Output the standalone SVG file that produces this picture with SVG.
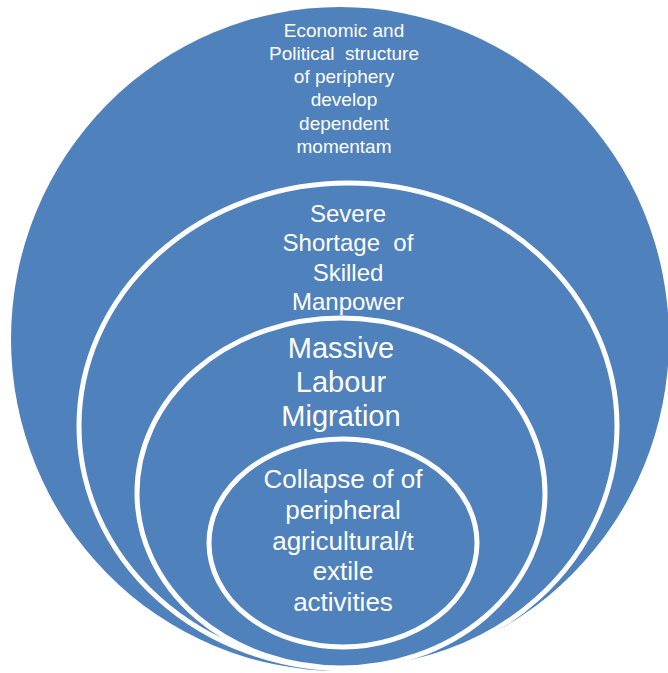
<svg xmlns="http://www.w3.org/2000/svg" width="668" height="673" viewBox="0 0 668 673">
  <style>
    .ring { fill: #4F81BD; stroke: #FFFFFF; stroke-width: 5; }
    .outer { fill: #4F81BD; stroke: none; }
    .lbl { fill: #FFFFFF; font-family: "Liberation Sans", Arial, sans-serif; text-anchor: middle; }
  </style>
  <rect width="668" height="673" fill="#FFFFFF"/>

  <!-- outermost layer -->
  <g id="node-structure">
    <ellipse class="outer" cx="340" cy="339" rx="329" ry="332"/>
    <text class="lbl" font-size="19"><tspan x="344" y="37">Economic and</tspan><tspan x="344" y="60">Political&#160; structure</tspan><tspan x="344" y="83">of periphery</tspan><tspan x="344" y="106">develop</tspan><tspan x="344" y="130">dependent</tspan><tspan x="344" y="153">momentam</tspan></text>
  </g>

  <!-- second layer -->
  <g id="node-shortage">
    <ellipse class="ring" cx="348" cy="426" rx="269" ry="243"/>
    <text class="lbl" font-size="24"><tspan x="348" y="222">Severe</tspan><tspan x="348" y="251">Shortage&#160; of</tspan><tspan x="348" y="281">Skilled</tspan><tspan x="348" y="310">Manpower</tspan></text>
  </g>

  <!-- third layer -->
  <g id="node-migration">
    <ellipse class="ring" cx="341" cy="493" rx="204" ry="175"/>
    <text class="lbl" font-size="29"><tspan x="341" y="358">Massive</tspan><tspan x="341" y="392">Labour</tspan><tspan x="341" y="426">Migration</tspan></text>
  </g>

  <!-- core -->
  <g id="node-collapse">
    <ellipse class="ring" cx="343" cy="543" rx="134" ry="104"/>
    <text class="lbl" font-size="26"><tspan x="343" y="488">Collapse of of</tspan><tspan x="343" y="519">peripheral</tspan><tspan x="343" y="550">agricultural/t</tspan><tspan x="343" y="580">extile</tspan><tspan x="343" y="611">activities</tspan></text>
  </g>
</svg>
